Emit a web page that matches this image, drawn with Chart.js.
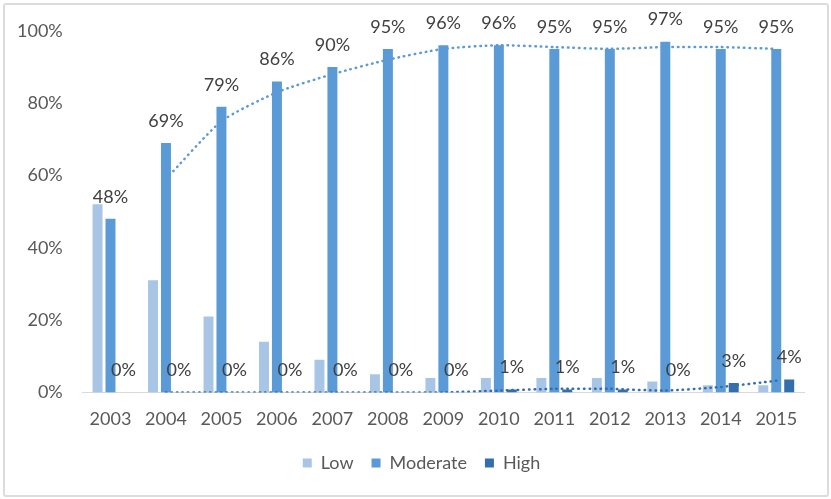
<!DOCTYPE html>
<html>
<head>
<meta charset="utf-8">
<script src="https://cdn.jsdelivr.net/npm/chart.js@4.4.1/dist/chart.umd.min.js"></script>
<style>
  body { margin: 0; background: #fff; }
  #frame { position: absolute; left: 3px; top: 3px; width: 822px; height: 490px; border: 2px solid #dcdcdc; border-radius: 3px; }
  #myChart { position: absolute; left: 0; top: 0; }
</style>
</head>
<body>
<div id="frame"></div>
<canvas id="myChart" width="831" height="499"></canvas>
<script>
const years = ['2003', '2004', '2005', '2006', '2007', '2008', '2009', '2010', '2011', '2012', '2013', '2014', '2015'];
const low = [52, 31, 21, 14, 9, 5, 4, 4, 4, 4, 3, 2, 2];
const moderate = [48, 69, 79, 86, 90, 95, 96, 96, 95, 95, 97, 95, 95];
const high = [0, 0, 0, 0, 0, 0, 0, 0.8, 0.8, 0.8, 0, 2.6, 3.6];
const highLabels = ['0%', '0%', '0%', '0%', '0%', '0%', '0%', '1%', '1%', '1%', '0%', '3%', '4%'];
// dotted trend lines
const moderateTrend = [null, 59, 75, 83, 88, 92, 95, 96, 95.5, 95, 95.5, 95.5, 95];
const highTrend = [null, 0, 0, 0, 0, 0, 0, 0.5, 1, 1, 0.5, 1.5, 3.2];
const yTicks = [0, 20, 40, 60, 80, 100];

const FONT = 'Lato, "Open Sans", sans-serif';

const barLabels = {
    id: 'barLabels',
    afterDatasetsDraw(chart) {
        const c = chart.ctx;
        c.save();
        c.font = '18px ' + FONT;
        c.fillStyle = '#404040';
        c.textAlign = 'center';
        c.textBaseline = 'middle';
        chart.getDatasetMeta(1).data.forEach((bar, i) => {
            c.fillText(moderate[i] + '%', bar.x, bar.y - 22);
        });
        chart.getDatasetMeta(2).data.forEach((bar, i) => {
            c.fillText(highLabels[i], bar.x, bar.y - 22);
        });
        c.restore();
    }
};

// legend sits a bit right of the plot centre in the original
const legendShift = {
    id: 'legendShift',
    afterLayout(chart) {
        chart.legend.left += 21;
        chart.legend.right += 21;
    }
};

const ctx = document.getElementById('myChart').getContext('2d');

const myChart = new Chart(ctx, {
    type: 'bar',
    data: {
        labels: years,
        datasets: [{
            label: 'Low',
            data: low,
            backgroundColor: '#a9c5e6',
            categoryPercentage: 0.7,
            barPercentage: 0.77,
            order: 2
        }, {
            label: 'Moderate',
            data: moderate,
            backgroundColor: '#5a9ad6',
            categoryPercentage: 0.7,
            barPercentage: 0.77,
            order: 2
        }, {
            label: 'High',
            data: high,
            backgroundColor: '#336fad',
            categoryPercentage: 0.7,
            barPercentage: 0.77,
            order: 2
        }, {
            type: 'line',
            label: 'Moderate trend',
            data: moderateTrend,
            borderColor: '#5a9ad6',
            borderWidth: 2.5,
            borderDash: [0.5, 5],
            borderCapStyle: 'round',
            pointRadius: 0,
            tension: 0.2,
            fill: false,
            order: 1
        }, {
            type: 'line',
            label: 'High trend',
            data: highTrend,
            borderColor: '#336fad',
            borderWidth: 2.5,
            borderDash: [0.5, 5],
            borderCapStyle: 'round',
            pointRadius: 0,
            tension: 0.2,
            fill: false,
            order: 1
        }]
    },
    options: {
        responsive: false,
        animation: false,
        layout: {
            padding: { left: -3, right: 27, top: 9, bottom: 17 }
        },
        plugins: {
            tooltip: { enabled: false },
            legend: {
                position: 'bottom',
                labels: {
                    font: { family: FONT, size: 18 },
                    color: '#595959',
                    boxWidth: 9,
                    boxHeight: 9,
                    padding: 18,
                    filter: (item) => item.datasetIndex < 3
                }
            }
        },
        scales: {
            x: {
                grid: { display: false, drawTicks: false },
                border: { display: true, color: '#d9d9d9', width: 1 },
                ticks: {
                    font: { family: FONT, size: 18 },
                    color: '#595959',
                    padding: 16
                },
                afterFit: (axis) => { axis.height -= 10; }
            },
            y: {
                min: 0,
                max: 100,
                grid: { display: false, drawTicks: false },
                border: { display: false },
                afterBuildTicks: (axis) => {
                    axis.ticks = yTicks.map(v => ({ value: v }));
                },
                ticks: {
                    font: { family: FONT, size: 18 },
                    color: '#595959',
                    padding: 20,
                    callback: (v) => v + '%'
                }
            }
        }
    },
    plugins: [barLabels, legendShift]
});
</script>
</body>
</html>
